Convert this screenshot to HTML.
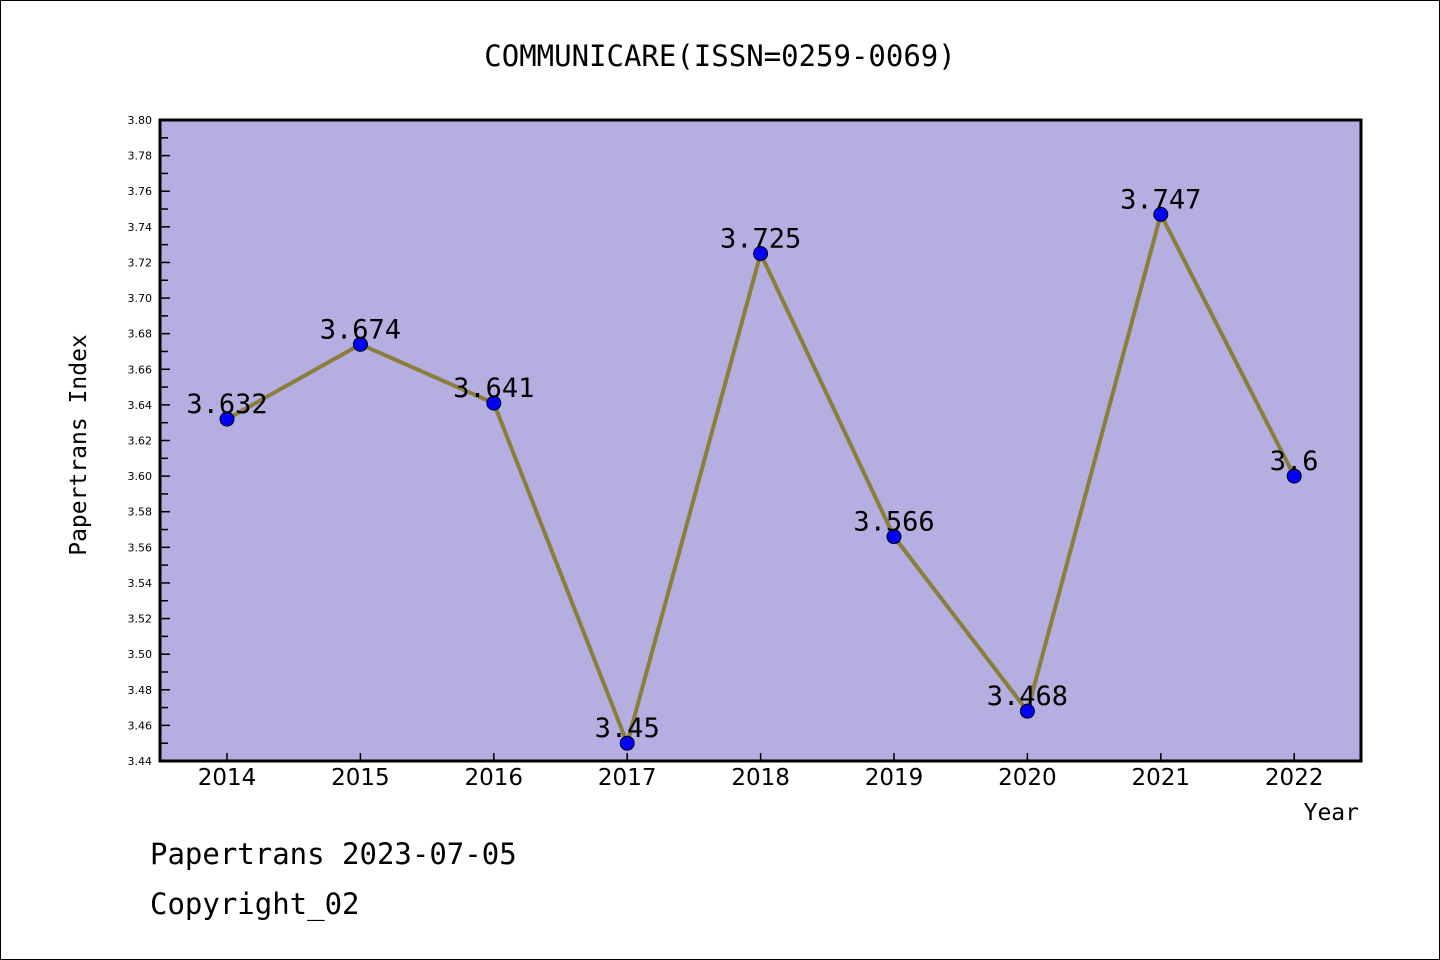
<!DOCTYPE html>
<html><head><meta charset="utf-8"><style>
html,body{margin:0;padding:0;background:#fff;}
svg{display:block;font-family:"Liberation Mono","WenQuanYi Zen Hei",monospace;}
</style></head><body>
<svg id="c" width="1440" height="960" xmlns="http://www.w3.org/2000/svg">
<rect x="0.5" y="0.5" width="1439" height="959" fill="#fff" stroke="#000"/>
<text x="720" y="66" text-anchor="middle" font-size="29" font-family="WenQuanYi Zen Hei, monospace">COMMUNICARE(ISSN=0259-0069)</text>
<rect x="160" y="120" width="1201" height="641" fill="#b5aee1"/>
<g id="axes"></g>
<g id="marks"></g>
<rect x="160" y="120" width="1201" height="641" fill="none" stroke="#000" stroke-width="3"/>
<text x="86" y="445" transform="rotate(-90 86 445)" text-anchor="middle" font-size="23" font-family="WenQuanYi Zen Hei, monospace">Papertrans Index</text>
<text x="1359" y="820" text-anchor="end" font-size="23" font-family="WenQuanYi Zen Hei, monospace">Year</text>
<text x="150" y="864" font-size="29" font-family="WenQuanYi Zen Hei, monospace">Papertrans 2023-07-05</text>
<text x="150" y="914" font-size="29" font-family="WenQuanYi Zen Hei, monospace">Copyright_02</text>
</svg>
<script>
const years = ["2014","2015","2016","2017","2018","2019","2020","2021","2022"];
const values = [3.632,3.674,3.641,3.45,3.725,3.566,3.468,3.747,3.6];
const valueLabels = ["3.632","3.674","3.641","3.45","3.725","3.566","3.468","3.747","3.6"];
const yTicks = ["3.44","3.46","3.48","3.50","3.52","3.54","3.56","3.58","3.60","3.62","3.64","3.66","3.68","3.70","3.72","3.74","3.76","3.78","3.80"];
const yMin=3.44,yMax=3.80;
const NS="http://www.w3.org/2000/svg";
function yS(v){return 761-(v-yMin)/(yMax-yMin)*641;}
function xS(i){return 227+i*133.4;}
const axes=document.getElementById('axes'),marks=document.getElementById('marks');
function mk(tag,attrs,parent){const e=document.createElementNS(NS,tag);for(const k in attrs)e.setAttribute(k,attrs[k]);parent.appendChild(e);return e;}
yTicks.forEach((t,i)=>{
 const y=yS(parseFloat(t));
 const l=mk('line',{x1:160,x2:170,y1:y,y2:y,stroke:'#000','stroke-width':1.5},axes);
 
 
 const tx=mk('text',{x:152,y:y+4,'text-anchor':'end','font-size':11,'font-family':'DejaVu Sans, sans-serif'},axes);
 tx.textContent=t;
 
 
 if(i<yTicks.length-1){
  const ym=yS(parseFloat(t)+0.01);
  const m=mk('line',{x1:160,x2:168,y1:ym,y2:ym,stroke:'#000','stroke-width':1.5},axes);
  
  
 }
});
years.forEach((yr,i)=>{
 const x=xS(i);
 const l=mk('line',{x1:x,x2:x,y1:761,y2:753,stroke:'#000','stroke-width':1.5},axes);
 
 
 const tx=mk('text',{x:x,y:785,'text-anchor':'middle','font-size':23,'font-family':'DejaVu Sans, sans-serif'},axes);
 tx.textContent=yr;
 
 
});
const pts=values.map((v,i)=>xS(i)+','+yS(v)).join(' ');
const line=mk('polyline',{points:pts,fill:'none',stroke:'#8b7d3a','stroke-width':4,'stroke-linejoin':'round'},marks);


values.forEach((v,i)=>{
 const c=mk('circle',{cx:xS(i),cy:yS(v),r:7,fill:'#0000ff',stroke:'#000','stroke-width':1},marks);
 
 
 const t=mk('text',{x:xS(i),y:yS(v)-6,'text-anchor':'middle','font-size':27,'font-family':'WenQuanYi Zen Hei, monospace'},marks);
 t.textContent=valueLabels[i];
 
 
});
</script>
</body></html>
